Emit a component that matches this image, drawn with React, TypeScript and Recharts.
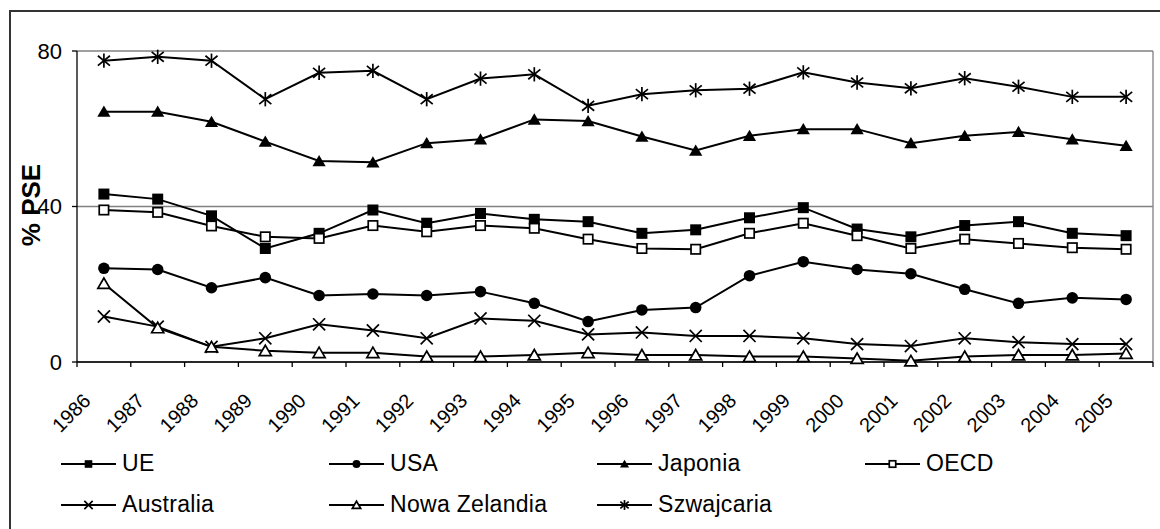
import React from 'react'
import {
  LineChart,
  Line,
  XAxis,
  YAxis,
  CartesianGrid,
  ReferenceLine,
  Legend,
} from 'recharts'

const years = [
  '1986', '1987', '1988', '1989', '1990', '1991', '1992', '1993', '1994', '1995',
  '1996', '1997', '1998', '1999', '2000', '2001', '2002', '2003', '2004', '2005',
]
const ue = [43.2, 41.9, 37.6, 29.2, 33.1, 39.1, 35.7, 38.2, 36.7, 36.1, 33.1, 34.0, 37.1, 39.7, 34.2, 32.2, 35.1, 36.1, 33.1, 32.5]
const usa = [24.1, 23.8, 19.1, 21.7, 17.1, 17.5, 17.1, 18.1, 15.1, 10.4, 13.4, 14.0, 22.2, 25.8, 23.8, 22.7, 18.7, 15.1, 16.5, 16.1]
const japonia = [64.4, 64.4, 61.8, 56.7, 51.7, 51.4, 56.3, 57.3, 62.4, 62.0, 58.0, 54.4, 58.2, 59.9, 59.9, 56.3, 58.2, 59.2, 57.3, 55.6]
const oecd = [39.1, 38.5, 35.0, 32.2, 31.8, 35.1, 33.5, 35.1, 34.4, 31.6, 29.2, 29.0, 33.1, 35.7, 32.5, 29.2, 31.6, 30.5, 29.4, 29.0]
const australia = [11.7, 9.1, 3.9, 6.1, 9.7, 8.1, 6.1, 11.2, 10.6, 7.1, 7.6, 6.7, 6.7, 6.1, 4.6, 4.1, 6.1, 5.1, 4.6, 4.6]
const nowaZelandia = [20.2, 8.8, 3.9, 2.9, 2.4, 2.4, 1.4, 1.4, 1.8, 2.4, 1.8, 1.8, 1.4, 1.4, 0.9, 0.3, 1.4, 1.8, 1.8, 2.2]
const szwajcaria = [77.5, 78.5, 77.5, 67.6, 74.4, 74.9, 67.6, 72.9, 74.0, 65.9, 68.9, 69.9, 70.3, 74.5, 71.9, 70.4, 73.0, 70.8, 68.2, 68.2]
const yTicks = [0, 40, 80]

const series = [
  { key: 'ue', name: 'UE', shape: 'square', values: ue },
  { key: 'usa', name: 'USA', shape: 'circle', values: usa },
  { key: 'japonia', name: 'Japonia', shape: 'triangle', values: japonia },
  { key: 'oecd', name: 'OECD', shape: 'openSquare', values: oecd },
  { key: 'australia', name: 'Australia', shape: 'cross', values: australia },
  { key: 'nz', name: 'Nowa Zelandia', shape: 'openTriangle', values: nowaZelandia },
  { key: 'szw', name: 'Szwajcaria', shape: 'star', values: szwajcaria },
]

// x = index + 0.5 so that ticks sit between categories, like Excel
const rows = years.map((year, i) => {
  const row: Record<string, number | string> = { x: i + 0.5, year }
  series.forEach((s) => {
    row[s.key] = s.values[i]
  })
  return row
})

const xTicks = years.flatMap((_, i) => [i, i + 0.5]).concat(years.length)

const FONT = '"Liberation Sans", Arial, sans-serif'

function Marker({ shape, cx, cy, s }: { shape: string; cx: number; cy: number; s: number }) {
  const sw = 1.7
  switch (shape) {
    case 'square':
      return <rect x={cx - s} y={cy - s} width={2 * s} height={2 * s} fill="#000" />
    case 'circle':
      return <circle cx={cx} cy={cy} r={s * 1.05} fill="#000" />
    case 'triangle':
      return (
        <polygon
          points={`${cx},${cy - s * 1.1} ${cx - s * 1.2},${cy + s * 0.95} ${cx + s * 1.2},${cy + s * 0.95}`}
          fill="#000"
        />
      )
    case 'openSquare':
      return (
        <rect x={cx - s * 0.85} y={cy - s * 0.85} width={1.7 * s} height={1.7 * s} fill="#fff" stroke="#000" strokeWidth={sw} />
      )
    case 'openTriangle':
      return (
        <polygon
          points={`${cx},${cy - s} ${cx - s * 1.1},${cy + s * 0.9} ${cx + s * 1.1},${cy + s * 0.9}`}
          fill="#fff"
          stroke="#000"
          strokeWidth={sw}
        />
      )
    case 'cross':
      return (
        <g stroke="#000" strokeWidth={sw}>
          <line x1={cx - s * 1.1} y1={cy - s * 1.1} x2={cx + s * 1.1} y2={cy + s * 1.1} />
          <line x1={cx - s * 1.1} y1={cy + s * 1.1} x2={cx + s * 1.1} y2={cy - s * 1.1} />
        </g>
      )
    case 'star':
      return (
        <g stroke="#000" strokeWidth={sw}>
          <line x1={cx - s * 1.1} y1={cy - s * 0.9} x2={cx + s * 1.1} y2={cy + s * 0.9} />
          <line x1={cx - s * 1.1} y1={cy + s * 0.9} x2={cx + s * 1.1} y2={cy - s * 0.9} />
          <line x1={cx} y1={cy - s * 1.3} x2={cx} y2={cy + s * 1.3} />
        </g>
      )
    default:
      return null
  }
}

const XTick = (props: any) => {
  const { x, y, payload } = props
  const v = payload.value as number
  if (Number.isInteger(v)) {
    return <line x1={x} x2={x} y1={y - 5} y2={y} stroke="#000" strokeWidth={1.3} />
  }
  const label = years[Math.floor(v)]
  const ax = x - 12
  const ay = y + 35
  return (
    <text
      x={ax}
      y={ay}
      textAnchor="end"
      transform={`rotate(-45, ${ax}, ${ay})`}
      fontSize={20}
      fontFamily={FONT}
      fill="#000"
    >
      {label}
    </text>
  )
}

// drawn in series order, as in the original legend
const LegendContent = () => (
  <div
    style={{
      display: 'grid',
      gridTemplateColumns: 'repeat(4, 268px)',
      gridAutoRows: '41px',
      paddingLeft: 61,
      fontFamily: FONT,
      fontSize: 23,
      letterSpacing: 0.3,
      color: '#000',
    }}
  >
    {series.map((s) => (
      <div key={s.key} style={{ display: 'flex', alignItems: 'center' }}>
        <svg width={56} height={20} style={{ display: 'block' }}>
          <line x1={0} x2={55} y1={10} y2={10} stroke="#000" strokeWidth={2} />
          <Marker shape={s.shape} cx={27.5} cy={10} s={3.8} />
        </svg>
        <span style={{ marginLeft: 5 }}>{s.name}</span>
      </div>
    ))}
  </div>
)

const YLabel = () => (
  <text
    x={31}
    y={205}
    textAnchor="middle"
    dominantBaseline="central"
    transform="rotate(-90, 31, 205)"
    fontSize={26}
    fontWeight="bold"
    fontFamily={FONT}
    fill="#000"
  >
    % PSE
  </text>
)

export default function App() {
  return (
    <div style={{ position: 'absolute', left: 0, top: 0, width: 1160, height: 529, background: '#fff' }}>
      <div
        style={{
          position: 'absolute',
          left: 9,
          top: 10,
          right: 0,
          bottom: 0,
          borderLeft: '2px solid #333',
          borderTop: '2px solid #333',
        }}
      />
      <div style={{ position: 'absolute', left: 0, top: 0 }}>
        <LineChart
          width={1160}
          height={529}
          data={rows}
          margin={{ top: 51, right: 7, left: 0, bottom: 107 }}
        >
          <CartesianGrid vertical={false} stroke="#808080" strokeWidth={1.3} />
          <ReferenceLine x={years.length} stroke="#808080" strokeWidth={1.3} />
          <XAxis
            type="number"
            dataKey="x"
            domain={[0, years.length]}
            ticks={xTicks}
            interval={0}
            height={60}
            tickLine={false}
            tickSize={5}
            tickMargin={0}
            axisLine={{ stroke: '#000', strokeWidth: 1.3 }}
            tick={XTick}
          />
          <YAxis
            type="number"
            domain={[0, 80]}
            ticks={yTicks}
            interval={0}
            width={77}
            tickSize={5}
            tickMargin={10}
            axisLine={{ stroke: '#000', strokeWidth: 1.3 }}
            tickLine={{ stroke: '#000', strokeWidth: 1.3 }}
            tick={{ fontSize: 22, fill: '#000', fontFamily: FONT }}
            label={<YLabel />}
          />
          <Legend
            layout="horizontal"
            verticalAlign="middle"
            align="center"
            wrapperStyle={{ top: 443, left: 0, width: 1160 }}
            content={LegendContent}
          />
          {series.map((s) => (
            <Line
              key={s.key}
              type="linear"
              dataKey={s.key}
              name={s.name}
              stroke="#000"
              strokeWidth={2}
              isAnimationActive={false}
              activeDot={false}
              dot={(p: any) => (
                <g key={`${s.key}-${p.index}`}>
                  <Marker shape={s.shape} cx={p.cx} cy={p.cy} s={5.5} />
                </g>
              )}
            />
          ))}
        </LineChart>
      </div>
    </div>
  )
}
